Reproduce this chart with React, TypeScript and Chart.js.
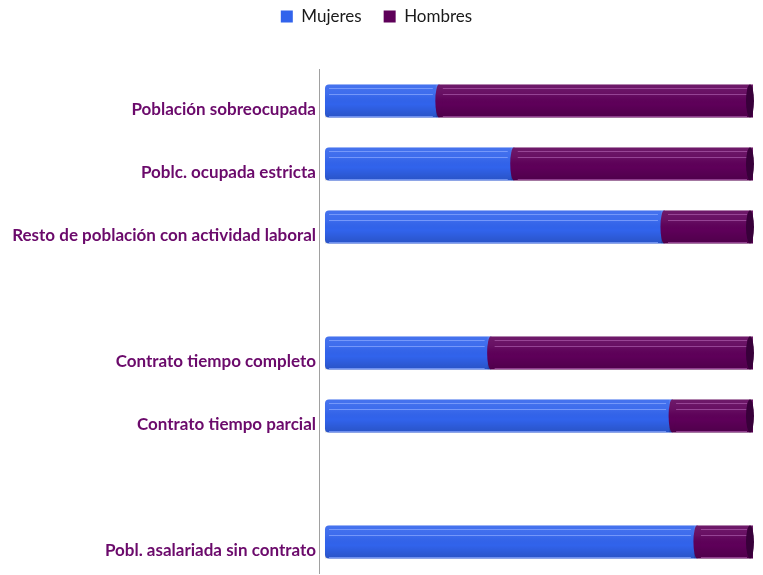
import React, { useEffect, useRef } from "react";
import { Chart, registerables } from "chart.js";

Chart.register(...registerables);

const categories = [
  "Población sobreocupada",
  "Poblc. ocupada estricta",
  "Resto de población con actividad laboral",
  "",
  "Contrato tiempo completo",
  "Contrato tiempo parcial",
  "",
  "Pobl. asalariada sin contrato",
];
const mujeres = [26.6, 44.1, 79.2, null, 38.7, 81.1, null, 86.9];
const hombres = [73.4, 55.9, 20.8, null, 61.3, 18.9, null, 13.1];

const BLUE = "#3163EC";
const PURPLE = "#5E0059";

const cylinder = {
  id: "cylinder",
  beforeInit(chart: any) {
    const legend = chart.legend;
    if (legend) {
      const fit = legend.fit;
      legend.fit = function () {
        fit.call(this);
        this.height = 83.5;
      };
    }
  },
  afterDatasetsDraw(chart: any) {
    const ctx = chart.ctx;
    chart.data.datasets.forEach((ds: any, di: number) => {
      const meta = chart.getDatasetMeta(di);
      meta.data.forEach((el: any, i: number) => {
        if (ds.data[i] == null) return;
        const { x, y, base, height } = el.getProps(["x", "y", "base", "height"], true);
        const l = Math.min(x, base);
        const r = Math.max(x, base);
        const t = y - height / 2;
        const b = y + height / 2;
        ctx.save();
        if (di === 1) {
          ctx.fillStyle = PURPLE;
          ctx.beginPath();
          ctx.ellipse(l, y, 3.5, height / 2, 0, 0, Math.PI * 2);
          ctx.fill();
        }
        const g = ctx.createLinearGradient(0, t, 0, b);
        g.addColorStop(0, "rgba(255,255,255,0.10)");
        g.addColorStop(0.3, "rgba(255,255,255,0.06)");
        g.addColorStop(0.6, "rgba(0,0,0,0.0)");
        g.addColorStop(1, "rgba(0,0,0,0.16)");
        ctx.fillStyle = g;
        ctx.fillRect(l - (di === 1 ? 3 : 0), t, r - l + (di === 1 ? 3 : 0), b - t);
        ctx.strokeStyle = di === 0 ? "rgba(140,170,255,0.7)" : "rgba(170,90,170,0.7)";
        ctx.lineWidth = 1;
        [t + 3.5, t + 9.5, b - 1.5].forEach((yy) => {
          ctx.beginPath();
          ctx.moveTo(l + 4, Math.round(yy) + 0.5);
          ctx.lineTo(r - 6, Math.round(yy) + 0.5);
          ctx.stroke();
        });
        if (di === 1) {
          ctx.fillStyle = "#38003A";
          ctx.beginPath();
          ctx.ellipse(r - 3, y, 4, height / 2, 0, 0, Math.PI * 2);
          ctx.fill();
        }
        ctx.restore();
      });
    });
  },
};

export default function App() {
  const ref = useRef<HTMLCanvasElement>(null);
  useEffect(() => {
    if (!ref.current) return;
    const chart = new Chart(ref.current, {
      type: "bar",
      data: {
        labels: categories,
        datasets: [
          {
            label: "Mujeres",
            data: mujeres,
            backgroundColor: BLUE,
            borderWidth: 0,
            borderRadius: { topLeft: 4, bottomLeft: 4, topRight: 0, bottomRight: 0 },
            borderSkipped: false,
          },
          {
            label: "Hombres",
            data: hombres,
            backgroundColor: PURPLE,
            borderWidth: 0,
          },
        ],
      },
      options: {
        indexAxis: "y",
        animation: false,
        responsive: false,
        maintainAspectRatio: false,
        datasets: { bar: { categoryPercentage: 1, barPercentage: 0.52 } },
        layout: { padding: { top: -14, right: 10, bottom: 1.5, left: 0 } },
        plugins: {
          tooltip: { enabled: false },
          legend: {
            position: "top",
            labels: {
              boxWidth: 12,
              boxHeight: 12,
              padding: 22,
              color: "#1a1a1a",
              font: { family: "Lato", size: 17 },
            },
          },
        },
        scales: {
          x: { stacked: true, min: -1.4, max: 100, display: false },
          y: {
            stacked: true,
            grid: { display: false, drawTicks: false },
            border: { display: true, color: "#a0a0a0", width: 1 },
            ticks: {
              padding: 3,
              labelOffset: 9,
              color: "#6B0A6B",
              font: { family: "Lato", size: 17, weight: "bold" },
            },
            afterFit: (scale: any) => {
              scale.width = 319;
              scale.paddingTop = 0;
              scale.paddingBottom = 0;
            },
          },
        },
      },
      plugins: [cylinder],
    });
    return () => chart.destroy();
  }, []);
  return (
    <div style={{ position: "absolute", left: 0, top: 0, width: 763, height: 575 }}>
      <canvas ref={ref} width={763} height={575} />
    </div>
  );
}
